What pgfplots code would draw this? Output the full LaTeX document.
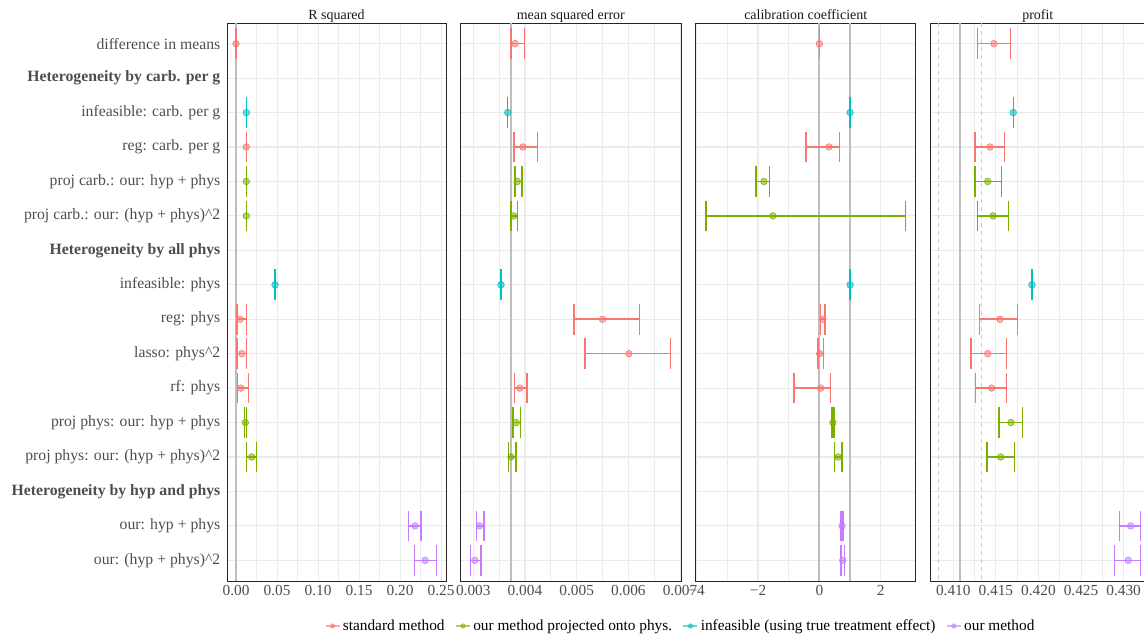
\documentclass[border=0pt]{standalone}
\usepackage{fontspec}
\setmainfont{Liberation Serif}
\usepackage{pgfplots}
\pgfplotsset{compat=1.18}
\usepackage{pgfplotstable}
\definecolor{cr}{HTML}{F8766D}
\definecolor{cg}{HTML}{7CAE00}
\definecolor{cc}{HTML}{00BFC4}
\definecolor{cp}{HTML}{C77CFF}
\definecolor{gridc}{HTML}{EBEBEB}
\definecolor{lab}{HTML}{4D4D4D}
\definecolor{refg}{HTML}{BEBEBE}
\definecolor{dashg}{HTML}{C8C8C8}

\pgfplotsset{
 panel/.style={
  scale only axis, height=418.5pt, anchor=south west,
  y dir=reverse, ymin=0.4, ymax=16.6, ytick={1,...,16},
  grid=both,
  major grid style={draw=gridc, line width=0.8pt},
  minor grid style={draw=gridc, line width=0.5pt},
  minor x tick num=1,
  scaled x ticks=false,
  major tick length=0pt, minor tick length=0pt,
  axis line style={black!85, line width=0.6pt},
  unbounded coords=jump,
  xticklabel style={text=lab, font=\fontsize{11.5}{13}\selectfont},
  yticklabel style={text=lab, font=\fontsize{11.8}{14}\selectfont, xshift=-1.5pt},
  title style={font=\fontsize{10.5}{12}\selectfont, at={(0.5,1)}, anchor=base, yshift=-3.3pt, text=black!90},
  /pgf/number format/assume math mode=true,
  legend image code/.code={
    \draw[line width=1pt, opacity=0.6] (0pt,0pt) -- (10.5pt,0pt);
    \fill[opacity=0.6] (5.25pt,0pt) circle (1.7pt);},
 },
 bar/.style={forget plot, color=#1, line width=1.15pt, mark=|, mark size=11.5pt,
   mark options={solid, line width=1.05pt, color=#1}},
 pt/.style={only marks, color=#1, mark=*, mark size=2.5pt,
   mark options={draw=none, fill=#1, fill opacity=0.55}},
 refline/.style={forget plot, refg, line width=1.5pt},
}

\begin{document}
\begin{tikzpicture}
\path[use as bounding box] (0,0) rectangle (858pt,477pt);

% ---------------- R squared
\begin{axis}[panel, at={(170.25pt,41.25pt)}, width=164.25pt,
  title={R squared},
  xmin=-0.011, xmax=0.256,
  xtick={0,0.05,0.1,0.15,0.2,0.25},
  xticklabels={0.00,0.05,0.10,0.15,0.20,0.25},
  yticklabels={difference in means,\textbf{Heterogeneity by carb. per g},infeasible: carb. per g,reg: carb. per g,proj carb.: our: hyp + phys,proj carb.: our: (hyp + phys)\textasciicircum 2,\textbf{Heterogeneity by all phys},infeasible: phys,reg: phys,lasso: phys\textasciicircum 2,rf: phys,proj phys: our: hyp + phys,proj phys: our: (hyp + phys)\textasciicircum 2,\textbf{Heterogeneity by hyp and phys},our: hyp + phys,our: (hyp + phys)\textasciicircum 2},
  legend columns=4,
  legend style={at={(2.073,-0.0806)}, anchor=center, draw=none, fill=none,
    font=\fontsize{11.5}{13}\selectfont, /tikz/every even column/.append style={column sep=6pt}},
  ]
\addplot[refline] coordinates {(0,0.4) (0,16.6)};
\addplot[bar=cr] table {
x y
0 1
nan nan
0.0125 4
nan nan
0.0012 9
0.0126 9
nan nan
0.0010 10
0.0126 10
nan nan
0.0016 11
0.0150 11
};
\addplot[bar=cg] table {
x y
0.0125 5
nan nan
0.0125 6
nan nan
0.0102 12
0.0130 12
nan nan
0.0130 13
0.0250 13
};
\addplot[bar=cc] table {
x y
0.0126 3
nan nan
0.0476 8
};
\addplot[bar=cp] table {
x y
0.2100 15
0.2256 15
nan nan
0.2175 16
0.2443 16
};
\addplot[pt=cr] table {
x y
0 1
0.0125 4
0.0049 9
0.0073 10
0.0057 11
};
\addlegendentry{standard method}
\addplot[pt=cg] table {
x y
0.0125 5
0.0125 6
0.0114 12
0.0191 13
};
\addlegendentry{our method projected onto phys.}
\addplot[pt=cc] table {
x y
0.0126 3
0.0476 8
};
\addlegendentry{infeasible (using true treatment effect)}
\addplot[pt=cp] table {
x y
0.2183 15
0.2305 16
};
\addlegendentry{our method}
\end{axis}

% ---------------- MSE
\begin{axis}[panel, at={(345.5pt,41.25pt)}, width=165.2pt,
  title={mean squared error},
  xmin=0.002756, xmax=0.007017,
  xtick={0.003,0.004,0.005,0.006,0.007},
  xticklabels={0.003,0.004,0.005,0.006,0.007},
  yticklabels={},
  ]
\addplot[refline] coordinates {(0.00373,0.4) (0.00373,16.6)};
\addplot[bar=cr] table {
x y
0.00373 1
0.00399 1
nan nan
0.00379 4
0.00424 4
nan nan
0.00495 9
0.00621 9
nan nan
0.00516 10
0.00682 10
nan nan
0.00380 11
0.00404 11
};
\addplot[bar=cg] table {
x y
0.00381 5
0.00394 5
nan nan
0.00373 6
0.00386 6
nan nan
0.00377 12
0.00391 12
nan nan
0.00368 13
0.00383 13
};
\addplot[bar=cc] table {
x y
0.003665 3
nan nan
0.003536 8
};
\addplot[bar=cp] table {
x y
0.00306 15
0.00321 15
nan nan
0.00295 16
0.00315 16
};
\addplot[pt=cr] table {
x y
0.00381 1
0.00396 4
0.00550 9
0.00601 10
0.00390 11
};
\addplot[pt=cg] table {
x y
0.00385 5
0.00378 6
0.00383 12
0.00373 13
};
\addplot[pt=cc] table {
x y
0.003665 3
0.003536 8
};
\addplot[pt=cp] table {
x y
0.00312 15
0.00303 16
};
\end{axis}

% ---------------- calibration coefficient
\begin{axis}[panel, at={(521.8pt,41.25pt)}, width=165pt,
  title={calibration coefficient},
  xmin=-4.03, xmax=3.14,
  xtick={-4,-2,0,2},
  xticklabels={\textminus 4,\textminus 2,0,2},
  yticklabels={},
  ]
\addplot[refline] coordinates {(0,0.4) (0,16.6)};
\addplot[refline] coordinates {(1,0.4) (1,16.6)};
\addplot[bar=cr] table {
x y
0 1
nan nan
-0.44 4
0.66 4
nan nan
0.04 9
0.18 9
nan nan
-0.05 10
0.14 10
nan nan
-0.83 11
0.37 11
};
\addplot[bar=cg] table {
x y
-2.06 5
-1.62 5
nan nan
-3.70 6
2.81 6
nan nan
0.41 12
0.48 12
nan nan
0.50 13
0.74 13
};
\addplot[bar=cc] table {
x y
1 3
nan nan
1 8
};
\addplot[bar=cp] table {
x y
0.70 15
0.77 15
nan nan
0.71 16
0.81 16
};
\addplot[pt=cr] table {
x y
0 1
0.31 4
0.11 9
0.01 10
0.04 11
};
\addplot[pt=cg] table {
x y
-1.81 5
-1.52 6
0.44 12
0.61 13
};
\addplot[pt=cc] table {
x y
1 3
1 8
};
\addplot[pt=cp] table {
x y
0.74 15
0.76 16
};
\end{axis}

% ---------------- profit
\begin{axis}[panel, at={(698pt,41.25pt)}, width=160.7pt,
  title={profit},
  xmin=0.40735, xmax=0.4325,
  xtick={0.41,0.415,0.42,0.425,0.43},
  xticklabels={0.410,0.415,0.420,0.425,0.430},
  yticklabels={},
  ]
\addplot[refline] coordinates {(0.4108,0.4) (0.4108,16.6)};
\addplot[forget plot, dashg, line width=0.8pt, dash pattern=on 3pt off 3pt] coordinates {(0.4083,0.4) (0.4083,16.6)};
\addplot[forget plot, dashg, line width=0.8pt, dash pattern=on 3pt off 3pt] coordinates {(0.4133,0.4) (0.4133,16.6)};
\addplot[bar=cr] table {
x y
0.41282 1
0.41674 1
nan nan
0.41255 4
0.41603 4
nan nan
0.41305 9
0.41751 9
nan nan
0.41208 10
0.41627 10
nan nan
0.41263 11
0.41627 11
};
\addplot[bar=cg] table {
x y
0.41255 5
0.41568 5
nan nan
0.41282 6
0.41650 6
nan nan
0.41536 12
0.41810 12
nan nan
0.41396 13
0.41716 13
};
\addplot[bar=cc] table {
x y
0.41704 3
nan nan
0.41924 8
};
\addplot[bar=cp] table {
x y
0.42948 15
0.43199 15
nan nan
0.42890 16
0.43199 16
};
\addplot[pt=cr] table {
x y
0.41478 1
0.41431 4
0.41548 9
0.41404 10
0.41451 11
};
\addplot[pt=cg] table {
x y
0.41404 5
0.41466 6
0.41677 12
0.41556 13
};
\addplot[pt=cc] table {
x y
0.41704 3
0.41924 8
};
\addplot[pt=cp] table {
x y
0.43082 15
0.43054 16
};
\end{axis}
\end{tikzpicture}
\end{document}
